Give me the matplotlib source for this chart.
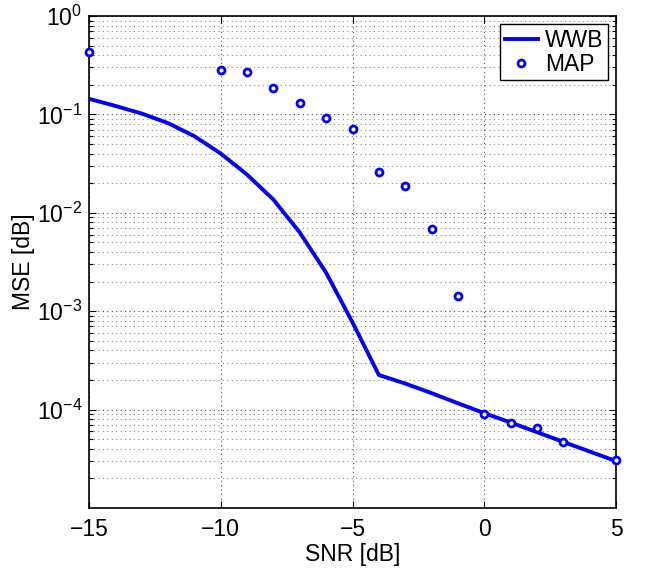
import matplotlib
matplotlib.use("Agg")
import matplotlib.pyplot as plt
from matplotlib.ticker import LogLocator, FixedLocator, NullFormatter

plt.rcParams['font.family'] = ['Liberation Sans', 'DejaVu Sans']
plt.rcParams['mathtext.default'] = 'regular'

# WWB bound (line)
wwb_snr = [-15, -14, -13, -12, -11, -10, -9, -8, -7, -6, -5, -4, -3, -2, -1, 0, 1, 2, 3, 4, 5]
wwb_mse = [0.144, 0.122, 0.102, 0.0816, 0.060, 0.0400, 0.0244, 0.0136, 0.0063, 0.00246,
           0.00077, 2.25e-4, 1.84e-4, 1.47e-4, 1.16e-4, 9.2e-5, 7.4e-5, 5.9e-5, 4.7e-5,
           3.75e-5, 3.0e-5]

# MAP estimator (markers)
map_snr = [-15, -10, -9, -8, -7, -6, -5, -4, -3, -2, -1, 0, 1, 2, 3, 5]
map_mse = [0.434, 0.283, 0.270, 0.186, 0.132, 0.0917, 0.0714, 0.0257, 0.0189, 0.00692,
           0.00144, 9.05e-5, 7.28e-5, 6.43e-5, 4.67e-5, 3.07e-5]

x_ticks = [-15, -10, -5, 0, 5]
y_ticks = [1e-4, 1e-3, 1e-2, 1e-1, 1e0]

W, H = 647, 568
fig = plt.figure(figsize=(W / 100, H / 100), dpi=100)
ax = fig.add_axes([89 / W, 1 - 508 / H, (616 - 89) / W, (508 - 16) / H])

blue = (0, 0, 1)
ax.plot(wwb_snr, wwb_mse, '-', color=blue, lw=2.8, label='WWB', zorder=3)
ax.plot(map_snr, map_mse, 'o', color=blue, mfc='white', mec=blue, ms=5, mew=2.0,
        lw=0, label='MAP', clip_on=False, zorder=4)

ax.set_yscale('log')
ax.set_xlim(-15, 5)
ax.set_ylim(1e-5, 1)
ax.xaxis.set_major_locator(FixedLocator(x_ticks))
ax.yaxis.set_major_locator(FixedLocator(y_ticks))
ax.yaxis.set_minor_locator(LogLocator(base=10, subs=range(2, 10), numticks=20))
ax.yaxis.set_minor_formatter(NullFormatter())
ax.set_xticklabels(['\u221215', '\u221210', '\u22125', '0', '5'])
ax.set_yticklabels(['$10^{\u22124}$', '$10^{\u22123}$', '$10^{\u22122}$', '$10^{\u22121}$', '$10^{0}$'])

ax.grid(True, which='major', axis='both', linestyle=(0, (1, 3)), lw=0.8, color='0.3')
ax.grid(True, which='minor', axis='y', linestyle=(0, (1, 3)), lw=0.8, color='0.55')

ax.tick_params(which='both', direction='in', top=True, right=True, labelsize=16.5, width=0.8)
ax.tick_params(which='major', length=5, pad=7)
ax.tick_params(axis='y', which='major', pad=5)
ax.tick_params(which='minor', length=3)
for s in ax.spines.values():
    s.set_linewidth(1.2)

ax.set_xlabel('SNR [dB]', fontsize=16.5, labelpad=2)
ax.set_ylabel('MSE [dB]', fontsize=16.5)
ax.yaxis.set_label_coords(-0.102, 0.5)

leg = ax.legend(loc='upper right', fontsize=16.5, frameon=True, fancybox=False,
                edgecolor='black', framealpha=1, handlelength=1.45, handletextpad=0.3,
                borderpad=0.2, labelspacing=0.05, borderaxespad=0.35)
leg.get_frame().set_linewidth(1.0)

fig.savefig('out.png', dpi=100)
